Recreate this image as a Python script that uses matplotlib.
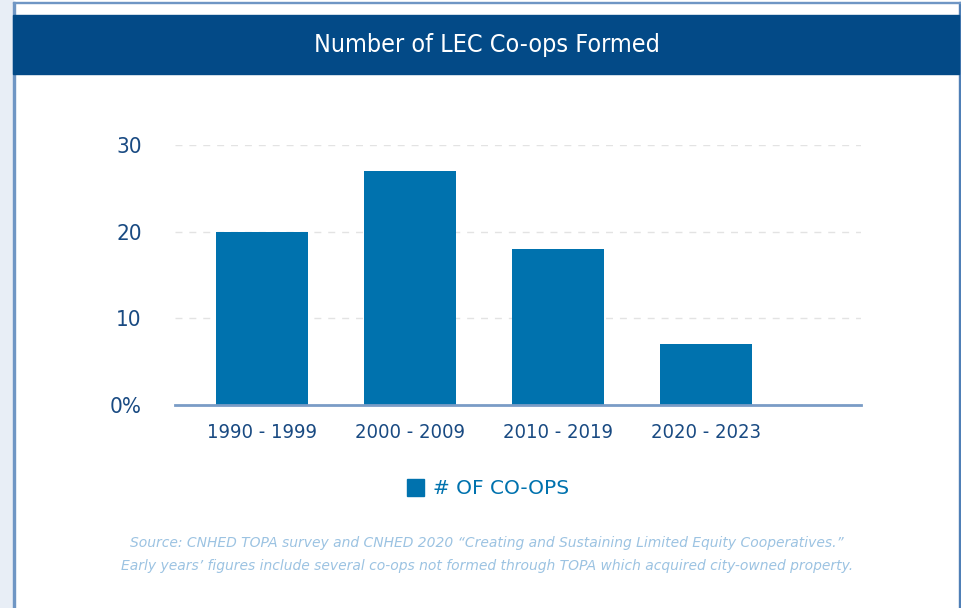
import matplotlib
matplotlib.use("Agg")
import matplotlib.pyplot as plt
from matplotlib.patches import Rectangle

periods = ["1990 - 1999", "2000 - 2009", "2010 - 2019", "2020 - 2023"]
coops = [20, 27, 18, 7]
y_ticks = [0, 10, 20, 30]
y_labels = ["0%", "10", "20", "30"]

NAVY = "#034a87"
BAR = "#0072ae"
LABEL = "#194a82"
COND = dict(family="DejaVu Sans", stretch="condensed")

fig = plt.figure(figsize=(9.61, 6.08), dpi=100)
W, H = 961, 608

def px(x, y):
    return x / W, 1 - y / H

# page background and framing
fig.patches.append(Rectangle((0, 0), 13 / W, 1, transform=fig.transFigure,
                             color="#e8eef6", zorder=0))
fig.patches.append(Rectangle((13 / W, 0), 2 / W, 1 - 2 / H, transform=fig.transFigure,
                             color="#6f96c4", zorder=1))
fig.patches.append(Rectangle((959 / W, 0), 2 / W, 1 - 2 / H, transform=fig.transFigure,
                             color="#4f7fb6", zorder=1))
fig.patches.append(Rectangle((13 / W, 1 - 3 / H), 948 / W, 1 / H, transform=fig.transFigure,
                             color="#6f96c4", zorder=1))
# title banner
fig.patches.append(Rectangle((13 / W, 1 - 74 / H), 946 / W, 59 / H, transform=fig.transFigure,
                             color=NAVY, zorder=1))
fig.text(*px(487, 45), "Number of LEC Co-ops Formed", color="white", fontsize=18,
         ha="center", va="center", **COND)

# plot area: y=0 at 405px, y=30 at 145px, x from 175 to 861px
ax = fig.add_axes([175 / W, 1 - 405 / H, (861 - 175) / W, (405 - 145) / H])
ax.set_ylim(0, 30)
ax.set_xlim(-0.588, 4.05)
ax.bar(range(len(periods)), coops, width=0.62, color=BAR, zorder=3)

for s in ["top", "right", "left"]:
    ax.spines[s].set_visible(False)
ax.spines["bottom"].set_color("#7a9cc6")
ax.spines["bottom"].set_linewidth(2)
ax.spines["bottom"].set_zorder(4)

ax.set_yticks(y_ticks)
ax.set_yticklabels(y_labels)
ax.set_xticks(range(len(periods)))
ax.set_xticklabels(periods)
ax.tick_params(length=0)
ax.tick_params(axis="y", pad=24, labelsize=16, labelcolor=LABEL)
ax.tick_params(axis="x", pad=13, labelsize=14.5, labelcolor=LABEL)
for lab in ax.get_xticklabels() + ax.get_yticklabels():
    lab.set_family(COND["family"])
    lab.set_stretch(COND["stretch"])

ax.grid(axis="y", color="#e3e3e3", linestyle=(0, (5, 5)), linewidth=1, zorder=0)
ax.set_axisbelow(True)

# legend
fig.patches.append(Rectangle((407 / W, 1 - 496 / H), 17 / W, 17 / H, transform=fig.transFigure,
                             color=BAR, zorder=2))
fig.text(*px(433, 488), "# OF CO-OPS", color=BAR, fontsize=14.5, family="DejaVu Sans",
         ha="left", va="center")

# source note
note_color = "#9cc3e2"
fig.text(*px(487, 543), "Source: CNHED TOPA survey and CNHED 2020 \u201cCreating and Sustaining Limited Equity Cooperatives.\u201d",
         color=note_color, fontsize=10.0, style="italic", ha="center", va="center")
fig.text(*px(487, 566), "Early years\u2019 figures include several co-ops not formed through TOPA which acquired city-owned property.",
         color=note_color, fontsize=10.0, style="italic", ha="center", va="center")

fig.savefig("out.png", dpi=100)
